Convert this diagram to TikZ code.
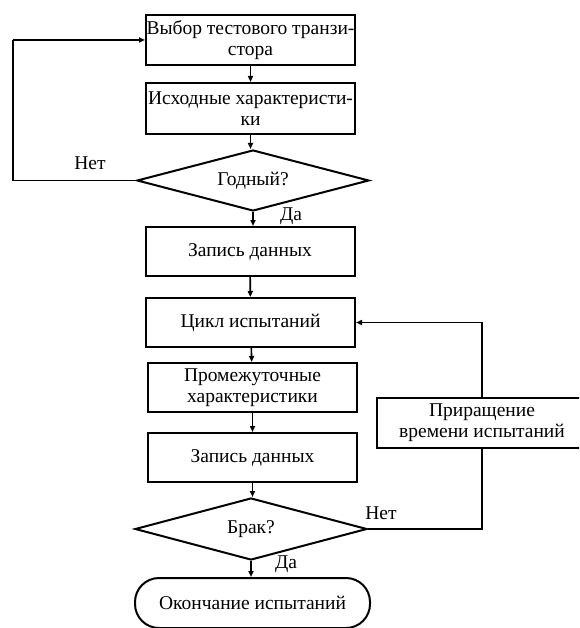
\documentclass[tikz,border=0pt]{standalone}
\usepackage{fontspec}
\setmainfont{Liberation Serif}
\newfontfamily\tnr{Liberation Serif}
\usetikzlibrary{shapes.geometric,arrows.meta}
\begin{document}
\begin{tikzpicture}[x=1pt,y=-1pt,
  every node/.style={font=\tnr\fontsize{19.5}{21}\selectfont},
  box/.style={draw,line width=2pt,rectangle,inner sep=0pt,align=center},
  dec/.style={draw,line width=2pt,diamond,shape aspect=3.8,inner sep=0pt},
  term/.style={draw,line width=2pt,rectangle,rounded corners=24pt,inner sep=0pt},
  conn/.style={line width=1.6pt},
  arr/.style={line width=1.6pt,-{Triangle[length=6pt,width=5pt]}},
  lbl/.style={inner sep=0pt}]
\clip (0,0) rectangle (579,628);
\node[box,minimum width=209pt,minimum height=50pt] (b1) at (250.5,40) {Выбор тестового транзи-\\стора};
\node[box,minimum width=209pt,minimum height=51pt] (b2) at (250.5,108.5) {Исходные характеристи-\\ки};
\node[dec,minimum width=232pt,minimum height=61pt] (d1) at (253,180.5) {Годный?};
\node[box,minimum width=209pt,minimum height=49pt] (b3) at (250,251.5) {Запись данных};
\node[box,minimum width=209pt,minimum height=49pt] (b4) at (250.5,322.5) {Цикл испытаний};
\node[box,minimum width=209pt,minimum height=49pt] (b5) at (252.5,387.5) {Промежуточные\\характеристики};
\node[box,minimum width=209pt,minimum height=49pt] (b6) at (252.5,457.5) {Запись данных};
\node[dec,minimum width=232pt,minimum height=62pt] (d2) at (251,529) {Брак?};
\node[term,minimum width=235pt,minimum height=50pt] (t) at (252.5,603) {Окончание испытаний};
\node[box,minimum width=210pt,minimum height=50pt] (r) at (482,423) {Приращение\\времени испытаний};
\coordinate (l1) at (13,40);
\draw[arr] (b1) -- (b2);
\draw[arr] (b2.south) -- (b2.south |- d1.north);
\draw[arr] (d1.south) -- (d1.south |- b3.north);
\draw[arr] (b3) -- (b4);
\draw[arr] (b4) -- (b5);
\draw[arr] (b5) -- (b6);
\draw[arr] (b6.south) -- (b6.south |- d2.north);
\draw[arr] (d2.south) -- (d2.south |- t.north);
\draw[conn] (d1.west) -| (l1);
\draw[arr] (l1) -- (b1.west);
\draw[conn] (d2.east) -| (r.south);
\draw[arr] (r.north) |- (b4.east);
\node[lbl] (n1) at (90,163) {Нет};
\node[lbl] (y1) at (291,216) {Да};
\node[lbl] (n2) at (381,513) {Нет};
\node[lbl] (y2) at (286,564) {Да};
\end{tikzpicture}
\end{document}
